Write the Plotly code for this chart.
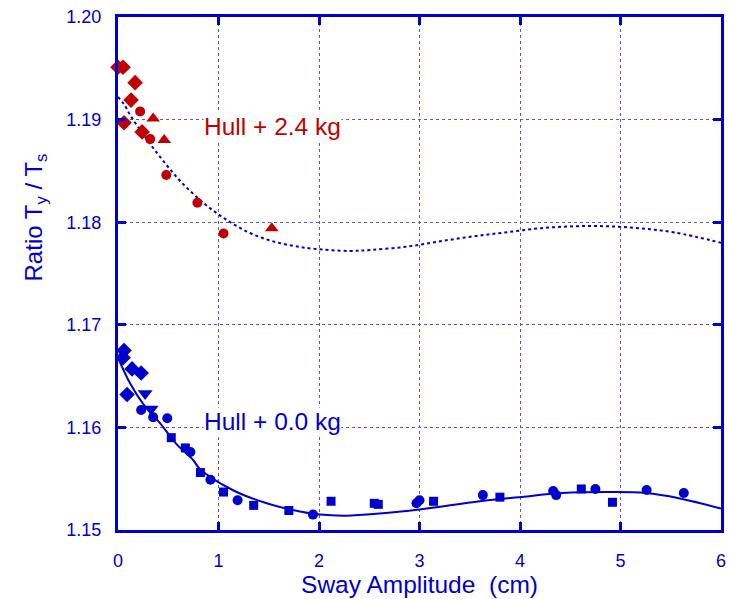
import plotly.graph_objects as go

BLUE = "#0000CC"
RED = "#C00000"
GRID = "#5555EE"

# Hull + 2.4 kg data
red_dia_x = [0.00, 0.05, 0.17, 0.13, 0.06, 0.24]
red_dia_y = [1.1951, 1.1951, 1.1936, 1.1919, 1.1897, 1.1888]
red_cir_x = [0.22, 0.32, 0.48, 0.79, 1.05]
red_cir_y = [1.1908, 1.1881, 1.1846, 1.1819, 1.1789]
red_tri_x = [0.35, 0.46, 1.53]
red_tri_y = [1.1901, 1.1880, 1.1794]

# Hull + 2.4 kg fit curve
fit24_x = [0.0, 0.06, 0.13, 0.27, 0.44, 0.63, 0.86, 1.07, 1.30, 1.52, 1.74, 1.96, 2.30,
           2.52, 2.86, 3.18, 3.52, 3.85, 4.19, 4.53, 4.87, 5.20, 5.54, 6.0]
fit24_y = [1.1922, 1.1915, 1.1903, 1.1883, 1.1861, 1.1839, 1.1818, 1.1803, 1.1790, 1.1782,
           1.1777, 1.1774, 1.1772, 1.1773, 1.1776, 1.1781, 1.1786, 1.1790, 1.1794, 1.1796,
           1.1796, 1.1794, 1.1790, 1.1780]

# Hull + 0.0 kg data
blu_dia_x = [0.06, 0.05, 0.14, 0.23, 0.09]
blu_dia_y = [1.1675, 1.1668, 1.1657, 1.1653, 1.1632]
blu_tri_x = [0.27, 0.33]
blu_tri_y = [1.1633, 1.1618]
blu_cir_x = [0.23, 0.35, 0.49, 0.72, 0.92, 1.19, 1.94, 2.97, 3.00, 3.63, 4.33, 4.36, 4.75, 5.26, 5.63]
blu_cir_y = [1.1617, 1.1610, 1.1609, 1.1576, 1.1549, 1.1529, 1.1515, 1.1526, 1.1529, 1.1534,
             1.1538, 1.1534, 1.1540, 1.1539, 1.1536]
blu_sq_x = [0.53, 0.67, 0.82, 1.05, 1.35, 1.70, 2.12, 2.55, 2.59, 3.14, 3.80, 4.61, 4.92]
blu_sq_y = [1.1590, 1.1580, 1.1556, 1.1537, 1.1524, 1.1519, 1.1528, 1.1526, 1.1525, 1.1528,
            1.1532, 1.1540, 1.1527]

# Hull + 0.0 kg fit curve
fit00_x = [0.0, 0.12, 0.25, 0.42, 0.58, 0.75, 0.81, 1.14, 1.48, 1.81, 2.01, 2.27, 2.60,
           3.00, 3.60, 3.99, 4.42, 4.92, 5.25, 5.58, 6.0]
fit00_y = [1.1668, 1.1643, 1.1623, 1.1604, 1.1584, 1.1568, 1.1560, 1.1539, 1.1526, 1.1518,
           1.1515, 1.1514, 1.1516, 1.1520, 1.1528, 1.1532, 1.1536, 1.1537, 1.1536, 1.1531,
           1.1521]

x_ticks = [0, 1, 2, 3, 4, 5, 6]
y_ticks = [1.15, 1.16, 1.17, 1.18, 1.19, 1.20]
y_tick_labels = ["1.15", "1.16", "1.17", "1.18", "1.19", "1.20"]

FONT = "Liberation Sans, Arial"

fig = go.Figure()

fig.add_trace(go.Scatter(x=fit24_x, y=fit24_y, mode="lines",
                         line=dict(color=BLUE, width=2, dash="dot", shape="spline")))
fig.add_trace(go.Scatter(x=fit00_x, y=fit00_y, mode="lines",
                         line=dict(color=BLUE, width=2, shape="spline")))

def pts(x, y, sym, color, size):
    fig.add_trace(go.Scatter(x=x, y=y, mode="markers", cliponaxis=False,
                             marker=dict(symbol=sym, color=color, size=size, line=dict(width=0))))

pts(red_dia_x, red_dia_y, "diamond", RED, 12)
pts(red_cir_x, red_cir_y, "circle", RED, 10)
pts(red_tri_x, red_tri_y, "triangle-up", RED, 12)
pts(blu_dia_x, blu_dia_y, "diamond", BLUE, 12)
pts(blu_tri_x, blu_tri_y, "triangle-down", BLUE, 13)
pts(blu_cir_x, blu_cir_y, "circle", BLUE, 10)
pts(blu_sq_x, blu_sq_y, "square", BLUE, 9)

fig.add_annotation(x=0.85, y=1.1893, text="Hull + 2.4 kg", showarrow=False, xanchor="left",
                   bgcolor="white", borderpad=0,
                   font=dict(color=RED, size=24.5, family=FONT))
fig.add_annotation(x=0.85, y=1.16053, text="Hull + 0.0 kg", showarrow=False, xanchor="left",
                   bgcolor="white", borderpad=0,
                   font=dict(color=BLUE, size=24.5, family=FONT))

# y-axis title (positioned like the reference, above centre)
fig.add_annotation(xref="paper", yref="paper", x=-0.137, y=0.61, textangle=-90,
                   text="Ratio T<sub>y</sub> / T<sub>s</sub>", showarrow=False,
                   xanchor="center", yanchor="middle",
                   font=dict(color=BLUE, size=24, family=FONT))

axis_common = dict(showline=True, linecolor=BLUE, linewidth=3, mirror="ticks",
                   ticks="inside", ticklen=8, tickwidth=3, tickcolor=BLUE,
                   showgrid=True, gridcolor=GRID, griddash="dot", gridwidth=1,
                   zeroline=False, tickfont=dict(color=BLUE, size=18, family=FONT))

fig.update_xaxes(range=[0, 6], tickvals=x_ticks, ticklabelstandoff=12, **axis_common,
                 title=dict(text="Sway Amplitude\u00a0 (cm)",
                            font=dict(color=BLUE, size=24.5, family=FONT), standoff=0))
fig.update_yaxes(range=[1.15, 1.20], tickvals=y_ticks, ticktext=y_tick_labels,
                 ticklabelstandoff=10, **axis_common)

fig.update_layout(width=729, height=599, showlegend=False,
                  margin=dict(l=118, r=3, t=17, b=69),
                  plot_bgcolor="white", paper_bgcolor="white",
                  font=dict(family=FONT, color=BLUE))

fig.write_html("out.html")
